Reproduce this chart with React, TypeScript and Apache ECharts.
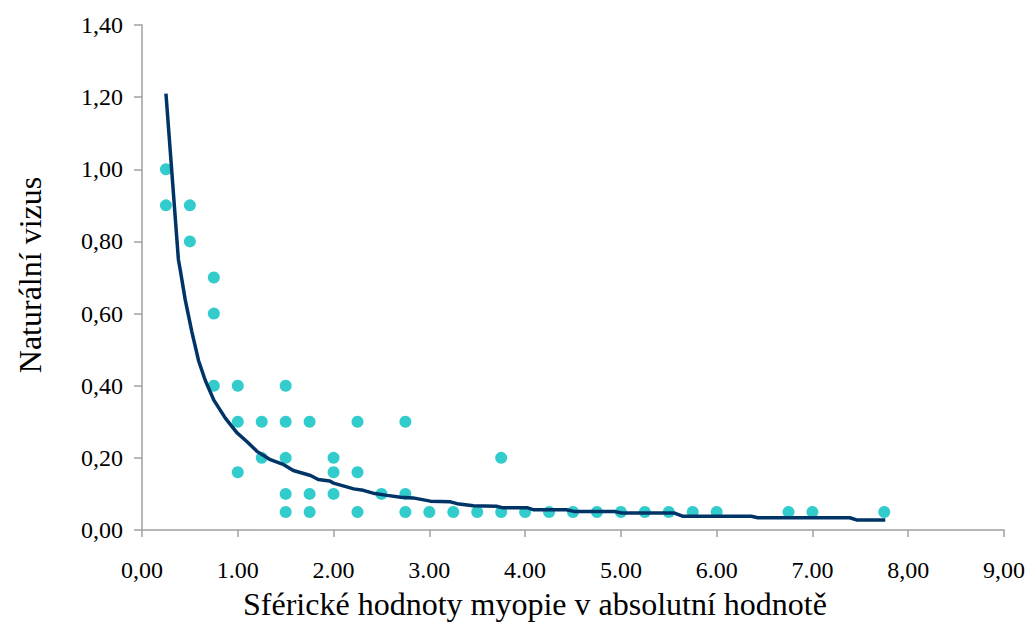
import React, { useEffect, useRef } from "react";
import * as echarts from "echarts";

// Measured points: [sphere (abs), natural visus]
const pointX = [
  0.25, 0.25, 0.5, 0.5, 0.75, 0.75, 0.75,
  1.0, 1.0, 1.0, 1.25, 1.25,
  1.5, 1.5, 1.5, 1.5, 1.5,
  1.75, 1.75, 1.75,
  2.0, 2.0, 2.0,
  2.25, 2.25, 2.25,
  2.5, 2.75, 2.75, 2.75,
  3.0, 3.25, 3.5, 3.75, 3.75,
  4.0, 4.25, 4.5, 4.75, 5.0, 5.25, 5.5, 5.75, 6.0,
  6.75, 7.0, 7.75,
];
const pointY = [
  1.0, 0.9, 0.9, 0.8, 0.7, 0.6, 0.4,
  0.4, 0.3, 0.16, 0.3, 0.2,
  0.4, 0.3, 0.2, 0.1, 0.05,
  0.3, 0.1, 0.05,
  0.2, 0.16, 0.1,
  0.3, 0.16, 0.05,
  0.1, 0.3, 0.1, 0.05,
  0.05, 0.05, 0.05, 0.2, 0.05,
  0.05, 0.05, 0.05, 0.05, 0.05, 0.05, 0.05, 0.05, 0.05,
  0.05, 0.05, 0.05,
];

// Trend curve
const trendX = [
  0.25, 0.38, 0.4, 0.45, 0.52, 0.59, 0.66, 0.75, 0.87, 0.99, 1.1, 1.2, 1.34,
  1.48, 1.58, 1.76, 1.84, 1.96, 2.0, 2.21, 2.31, 2.43, 2.56, 2.7, 2.83, 3.01,
  3.22, 3.29, 3.46, 3.7, 3.76, 4.02, 4.09, 4.43, 4.52, 4.94, 5.01, 5.56, 5.65,
  6.36, 6.43, 7.39, 7.46, 7.76,
];
const trendY = [
  1.21, 0.75, 0.72, 0.64, 0.55, 0.47, 0.415, 0.36, 0.31, 0.27, 0.244, 0.218,
  0.195, 0.181, 0.165, 0.151, 0.14, 0.136, 0.13, 0.114, 0.11, 0.101, 0.096,
  0.091, 0.089, 0.08, 0.078, 0.073, 0.067, 0.066, 0.062, 0.062, 0.056, 0.056,
  0.051, 0.051, 0.047, 0.047, 0.038, 0.038, 0.034, 0.034, 0.028, 0.028,
];

const xTickLabels = ["0,00", "1.00", "2.00", "3.00", "4.00", "5.00", "6.00", "7.00", "8,00", "9,00"];
const xTitle = "Sférické hodnoty myopie v absolutní hodnotě";
const yTitle = "Naturální vizus";

const FONT = "'Liberation Serif', 'Times New Roman', serif";

export default function App() {
  const ref = useRef<HTMLDivElement>(null);
  useEffect(() => {
    if (!ref.current) return;
    const chart = echarts.init(ref.current, undefined, { renderer: "svg" });
    const axisColor = "#A0A0A0";
    chart.setOption({
      animation: false,
      backgroundColor: "#ffffff",
      grid: { left: 142, right: 27, top: 25, bottom: 93, containLabel: false },
      xAxis: {
        type: "value",
        min: 0,
        max: 9,
        interval: 1,
        axisLine: { show: true, lineStyle: { color: axisColor, width: 1.5 } },
        axisTick: { show: true, length: 7, lineStyle: { color: axisColor, width: 1.5 } },
        splitLine: { show: false },
        axisLabel: {
          margin: 28,
          fontFamily: FONT,
          fontSize: 24,
          color: "#000",
          formatter: (v: number) => xTickLabels[Math.round(v)] ?? "",
        },
      },
      yAxis: {
        type: "value",
        min: 0,
        max: 1.4,
        interval: 0.2,
        axisLine: { show: true, lineStyle: { color: axisColor, width: 1.5 } },
        axisTick: { show: true, length: 8, lineStyle: { color: axisColor, width: 1.5 } },
        splitLine: { show: false },
        axisLabel: {
          margin: 19,
          fontFamily: FONT,
          fontSize: 24,
          color: "#000",
          formatter: (v: number) => v.toFixed(2).replace(".", ","),
        },
      },
      graphic: [
        {
          type: "text",
          x: 535,
          y: 604,
          style: {
            text: xTitle,
            fontFamily: FONT,
            fontSize: 32,
            fill: "#000",
            align: "center",
            verticalAlign: "middle",
          },
        },
        {
          type: "text",
          x: 30,
          y: 275,
          rotation: Math.PI / 2,
          style: {
            text: yTitle,
            fontFamily: FONT,
            fontSize: 32,
            fill: "#000",
            align: "center",
            verticalAlign: "middle",
          },
        },
      ],
      series: [
        {
          type: "scatter",
          data: pointX.map((x, i) => [x, pointY[i]]),
          symbol: "circle",
          symbolSize: 12,
          itemStyle: { color: "#33CCCC", opacity: 1 },
          z: 2,
        },
        {
          type: "line",
          data: trendX.map((x, i) => [x, trendY[i]]),
          showSymbol: false,
          symbol: "none",
          lineStyle: { color: "#003366", width: 3.5 },
          z: 3,
        },
      ],
    });
    return () => chart.dispose();
  }, []);
  return (
    <div
      ref={ref}
      style={{ position: "fixed", left: 0, top: 0, width: 1031, height: 623 }}
    />
  );
}
